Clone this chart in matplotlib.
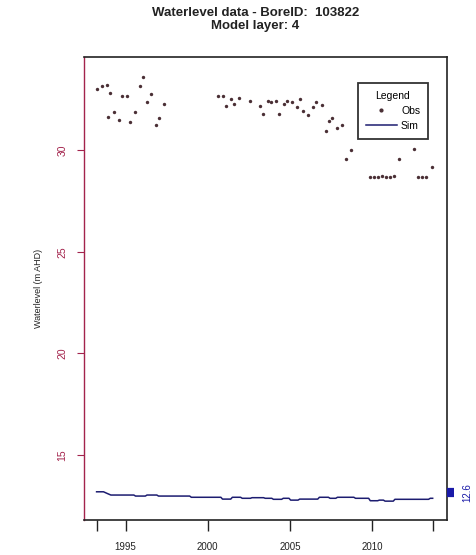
import numpy as np
import matplotlib
matplotlib.use("Agg")
import matplotlib.pyplot as plt
from matplotlib.lines import Line2D

plt.rcParams['font.family'] = ['Liberation Sans', 'DejaVu Sans']

# observed water levels (decimal year, m AHD)
obs_year = [1993.23, 1993.57, 1993.84, 1993.94, 1994.04, 1994.29, 1994.59, 1994.76,
            1995.06, 1995.26, 1995.55, 1995.85, 1996.04, 1996.32, 1996.52, 1996.83,
            1997.03, 1997.33,
            2000.64, 2000.94, 2001.11, 2001.41, 2001.61, 2001.92, 2002.59, 2003.20,
            2003.38, 2003.68, 2003.88, 2004.17, 2004.37, 2004.65, 2004.85, 2005.13,
            2005.43, 2005.62, 2005.82, 2006.12, 2006.41, 2006.61, 2006.94, 2007.22,
            2007.41, 2007.59, 2007.89, 2008.19, 2008.42, 2008.70,
            2009.88, 2010.12, 2010.37, 2010.61, 2010.85, 2011.10, 2011.34, 2011.66,
            2012.58, 2012.81, 2013.06, 2013.30, 2013.67]
obs_level = [33.00, 33.14, 33.22, 31.64, 32.84, 31.87, 31.51, 32.69,
             32.66, 31.39, 31.89, 33.14, 33.61, 32.36, 32.76, 31.23,
             31.59, 32.28,
             32.69, 32.69, 32.20, 32.51, 32.27, 32.58, 32.43, 32.20,
             31.79, 32.44, 32.39, 32.44, 31.80, 32.28, 32.43, 32.37,
             32.12, 32.52, 31.91, 31.72, 32.11, 32.36, 32.21, 30.94,
             31.45, 31.59, 31.11, 31.26, 29.58, 29.99,
             28.67, 28.70, 28.68, 28.72, 28.69, 28.70, 28.71, 29.57,
             30.05, 28.68, 28.67, 28.69, 29.19]

# simulated heads, model layer 4
sim_year = [1993.23, 1993.65, 1993.90, 1994.10, 1995.50, 1995.60, 1996.20, 1996.30,
            1996.90, 1997.00, 1998.90, 1999.00, 2000.80, 2000.90, 2001.40, 2001.50,
            2002.00, 2002.10, 2002.60, 2002.70, 2003.40, 2003.50, 2003.90, 2004.00,
            2004.50, 2004.60, 2004.95, 2005.05, 2005.50, 2005.60, 2006.70, 2006.80,
            2007.35, 2007.45, 2007.80, 2007.90, 2008.90, 2009.00, 2009.80, 2009.90,
            2010.35, 2010.45, 2010.70, 2010.80, 2011.30, 2011.40, 2013.45, 2013.55,
            2013.70]
sim_level = [13.19, 13.19, 13.10, 13.03, 13.03, 12.98, 12.98, 13.03,
             13.03, 12.98, 12.98, 12.92, 12.92, 12.83, 12.83, 12.92,
             12.92, 12.87, 12.87, 12.90, 12.90, 12.87, 12.87, 12.82,
             12.82, 12.87, 12.87, 12.78, 12.78, 12.83, 12.83, 12.92,
             12.92, 12.87, 12.87, 12.92, 12.92, 12.87, 12.87, 12.75,
             12.75, 12.78, 12.78, 12.73, 12.73, 12.82, 12.82, 12.87,
             12.87]

x_ticks = [1993.23, 1995, 2000, 2005, 2010, 2013.7]
x_labels = ['', '1995', '2000', '2005', '2010', '']
y_ticks = [15, 20, 25, 30]
right_ticks = [12.98, 13.07, 13.16, 13.25, 13.33]
right_labels = ['', '', '12.6', '', '']

fig = plt.figure(figsize=(4.77, 5.55), dpi=100)
ax = fig.add_axes([0.176, 0.063, 0.761, 0.834])

ax.plot(sim_year, sim_level, color='#1c1c70', lw=1.1, zorder=2)
ax.scatter(obs_year, obs_level, s=6, color='#4a2f35', zorder=3, linewidths=0)

ax.set_xlim(1992.46, 2014.57)
ax.set_ylim(11.8, 34.58)

red = '#a3234c'
ax.spines['left'].set_color(red)
ax.spines['left'].set_linewidth(1.0)
for s in ['top', 'right', 'bottom']:
    ax.spines[s].set_color('#222222')
    ax.spines[s].set_linewidth(1.2)

ax.set_xticks(x_ticks)
ax.set_xticklabels(x_labels)
ax.tick_params(axis='x', direction='out', length=8, width=1.0, labelsize=7,
               pad=8, colors='#222222')

ax.set_yticks(y_ticks)
ax.set_yticklabels([str(v) for v in y_ticks], rotation=90, va='center')
ax.tick_params(axis='y', direction='out', length=5, width=0.8, labelsize=7.5,
               pad=7, colors=red)

ax.set_ylabel('Waterlevel (m AHD)', fontsize=6.5, labelpad=10, color='#222222')

ax2 = ax.twinx()
ax2.set_ylim(ax.get_ylim())
ax2.set_yticks(right_ticks)
ax2.set_yticklabels(right_labels, rotation=90, va='center')
ax2.tick_params(axis='y', direction='out', length=5, width=1.6, labelsize=7,
                pad=6, colors='#1a1aa8')
for s in ax2.spines.values():
    s.set_visible(False)

handles = [Line2D([], [], marker='o', ls='none', color='#4a2f35', markersize=2),
           Line2D([], [], color='#1c1c70', lw=1.1)]
leg = ax.legend(handles, ['Obs', 'Sim'], title='Legend', loc='upper right',
                bbox_to_anchor=(0.962, 0.956), fontsize=7.5, title_fontsize=7.5,
                frameon=True, fancybox=False, handlelength=3.0,
                borderpad=0.75, labelspacing=0.5, handletextpad=0.4)
leg.get_frame().set_edgecolor('black')
leg.get_frame().set_linewidth(1.3)

fig.suptitle('Waterlevel data - BoreID:  103822\nModel layer: 4', y=0.988,
             fontsize=9.5, fontweight='bold', color='#222222', x=0.535,
             linespacing=1.2)

fig.savefig('out.png', dpi=100)
